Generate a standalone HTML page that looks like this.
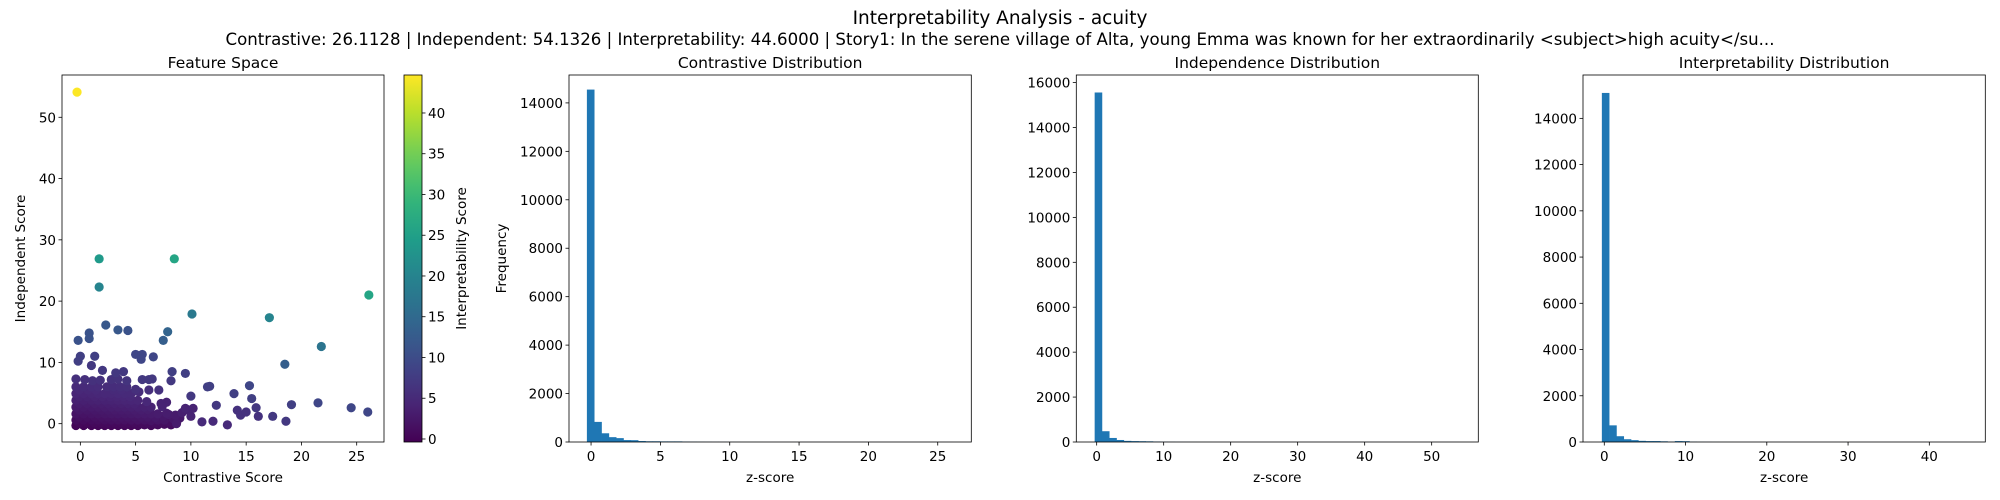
<!DOCTYPE html>
<html><head><meta charset="utf-8">
<style>
body{margin:0;background:#fff;}
svg{display:block;font-family:"DejaVu Sans","Liberation Sans",sans-serif;}
</style></head>
<body>
<svg id="fig" width="2000" height="500" viewBox="0 0 2000 500" xmlns="http://www.w3.org/2000/svg">
<rect width="2000" height="500" fill="#fff"/>
<text x="1000" y="24" font-size="18.5" text-anchor="middle" fill="#000">Interpretability Analysis - acuity</text>
<text x="1000" y="45" font-size="16.6" text-anchor="middle" fill="#000">Contrastive: 26.1128 | Independent: 54.1326 | Interpretability: 44.6000 | Story1: In the serene village of Alta, young Emma was known for her extraordinarily &lt;subject&gt;high acuity&lt;/su...</text>
<g id="g"></g>
</svg>
<script>
// ---- scatter data (contrastive, independent, interpretability) ----
const scatterX = [-0.3,1.7,8.5,1.7,26.1,10.1,17.1,2.3,3.4,4.3,0.8,7.9,-0.2,0.8,7.5,21.8,18.5,5.0,5.6,6.6,5.5,0.0,1.3,-0.2,1.0,2.0,9.5,8.3,8.2,3.2,3.9,5.6,6.2,6.5,7.1,11.5,11.7,15.3,13.9,15.5,10.0,12.3,15.9,19.1,21.5,24.5,26.0,14.2,14.5,15.0,16.1,17.4,18.6,11.0,12.0,13.3,10.0,9.5,10.2,7.8,7.3,8.0,8.7,
-0.4,0.3,1.0,1.6,2.2,2.8,3.4,4.0,4.6,5.2,5.8,6.4,7.0,7.6,8.2,
-0.4,0.3,1.0,1.6,2.2,2.8,3.4,4.0,4.6,5.2,5.8,6.4,7.0,7.6,8.4,9.0,
-0.4,0.3,1.0,1.6,2.2,2.8,3.4,4.0,4.6,5.2,5.8,6.4,7.0,7.8,9.2,9.8,
-0.4,0.3,1.0,1.6,2.2,2.8,3.4,4.0,4.6,5.2,5.8,6.4,7.4,
-0.4,0.3,1.0,1.6,2.2,2.8,3.4,4.0,4.6,5.2,6.0,
-0.4,0.3,1.0,1.6,2.2,2.8,3.4,4.0,4.6,5.3,6.2,
-0.4,0.3,1.0,1.6,2.4,3.0,3.6,4.2,5.0,
-0.4,0.4,1.1,1.8,2.8,3.4,4.2,
-0.1,0.6,1.3,1.9,2.5,3.1,3.7,4.3,4.9,5.5,6.1,6.7,7.3,8.0,
-0.1,0.6,1.3,1.9,2.5,3.1,3.7,4.3,4.9,5.5,6.1,6.8,7.5,8.6,
-0.1,0.6,1.3,1.9,2.5,3.1,3.7,4.3,4.9,5.5,6.1,
-0.1,0.6,1.3,1.9,2.5,3.1,3.7,4.3,4.9,
-0.1,0.6,1.3,2.0,2.7,3.3,3.9,4.5,
-0.1,0.7,1.4,3.0,3.7];
const scatterY = [54.1,26.9,26.9,22.3,21.0,17.9,17.3,16.1,15.3,15.2,14.8,15.0,13.6,13.9,13.6,12.6,9.7,11.3,11.3,10.9,10.5,11.0,11.0,10.2,9.5,8.7,8.2,8.5,7.0,8.3,8.5,7.2,7.2,7.3,5.5,6.0,6.1,6.2,4.9,4.1,4.5,3.0,2.6,3.1,3.4,2.6,1.9,2.2,1.4,1.9,1.2,1.2,0.4,0.3,0.4,-0.2,1.2,2.5,2.5,3.5,3.3,1.5,0.0,
-0.3,-0.3,-0.3,-0.3,-0.3,-0.3,-0.3,-0.3,-0.3,-0.3,-0.2,-0.3,-0.2,-0.1,-0.2,
0.6,0.6,0.6,0.6,0.6,0.6,0.6,0.6,0.6,0.6,0.6,0.5,0.6,0.6,0.8,0.9,
1.6,1.6,1.6,1.6,1.6,1.6,1.6,1.6,1.6,1.6,1.6,1.6,1.6,1.7,1.8,2.2,
2.7,2.7,2.7,2.7,2.7,2.7,2.7,2.7,2.7,2.7,2.7,2.7,2.8,
3.8,3.8,3.8,3.8,3.8,3.8,3.8,3.8,3.8,3.8,3.6,
4.9,4.9,4.9,4.9,4.9,4.9,4.9,4.9,4.9,5.2,5.5,
6.0,6.0,6.0,6.0,6.0,6.0,6.0,6.0,5.6,
7.3,7.2,7.0,7.1,7.2,7.3,7.0,
0.1,0.1,0.1,0.1,0.1,0.1,0.1,0.1,0.1,0.1,0.1,0.1,0.2,0.3,
1.1,1.1,1.1,1.1,1.1,1.1,1.1,1.1,1.1,1.1,1.1,1.0,1.2,1.4,
2.2,2.2,2.2,2.2,2.2,2.2,2.2,2.2,2.2,2.2,2.3,
3.3,3.3,3.3,3.3,3.3,3.3,3.3,3.3,3.2,
4.4,4.4,4.4,4.4,4.4,4.4,4.4,4.4,
5.5,5.5,5.5,5.5,5.5];
const scatterC = [44.6,24,26,20,26,18,20,12,12,11,11,14,11,11,13,17,13,9,9,9,9,8,8,8,7,7,8,8,7,7,7,7,7,7,6,8,8,9,8,8,7,7,7,8,9,9,9,6,6,6,6,7,7,5,5,5,4,4,4,4,4,3,3,
0.2,0.2,0.3,0.3,0.3,0.4,0.4,0.5,0.5,0.6,0.7,0.8,0.9,1.0,1.1,
1.0,1.0,1.1,1.2,1.3,1.4,1.5,1.6,1.7,1.8,1.9,2.0,2.1,2.2,2.4,2.5,
2.0,2.0,2.1,2.2,2.3,2.4,2.5,2.6,2.7,2.8,2.9,3.0,3.1,3.2,3.5,3.7,
2.8,2.8,2.9,3.0,3.1,3.2,3.3,3.4,3.5,3.6,3.7,3.8,4.0,
3.6,3.6,3.7,3.8,3.9,4.0,4.1,4.2,4.3,4.4,4.6,
4.3,4.3,4.4,4.5,4.6,4.7,4.8,4.9,5.0,5.2,5.5,
5.0,5.0,5.1,5.2,5.3,5.4,5.5,5.6,5.8,
5.8,5.8,5.9,6.0,6.1,6.2,6.4,
0.5,0.5,0.6,0.6,0.7,0.7,0.8,0.8,0.9,0.9,1.0,1.1,1.2,1.4,
1.5,1.5,1.6,1.7,1.8,1.9,2.0,2.1,2.2,2.3,2.4,2.5,2.6,2.9,
2.4,2.4,2.5,2.6,2.7,2.8,2.9,3.0,3.1,3.2,3.3,
3.2,3.2,3.3,3.4,3.5,3.6,3.7,3.8,3.9,
4.0,4.0,4.1,4.2,4.3,4.4,4.5,4.6,
4.7,4.7,4.8,5.0,5.1];
const scatterXTicks = [0,5,10,15,20,25];
const scatterYTicks = [0,10,20,30,40,50];
const cbarTicks = [0,5,10,15,20,25,30,35,40];

// ---- histogram data ----
const contrastCounts = [14550,830,360,200,160,80,75,40,30,30,25,25,25,15,10,8,6,5,4,3,3,2,2,2,1,1,1,1,1,1,1,1,1,1,1,1,1,1,1,1,1,1,1,1,1,1,1,1,1,1];
const contrastRange = [-0.3,26.1];
const contrastYTicks = [0,2000,4000,6000,8000,10000,12000,14000];
const contrastXTicks = [0,5,10,15,20,25];

const indepCounts = [15560,480,180,90,50,40,35,30,20,10,8,5,4,3,2,2,1,1,1,1,1,1,1,1,1,1,1,1,1,1,1,1,1,1,1,1,1,1,1,1,1,1,1,1,1,1,1,1,1,1];
const indepRange = [-0.3,54.1];
const indepYTicks = [0,2000,4000,6000,8000,10000,12000,14000,16000];
const indepXTicks = [0,10,20,30,40,50];

const interpCounts = [15100,720,250,120,80,50,40,40,30,15,40,35,10,6,4,3,2,2,1,1,1,1,1,1,1,1,1,1,1,1,1,1,1,1,1,1,1,1,1,1,1,1,1,1,1,1,1,1,1,1];
const interpRange = [-0.3,44.6];
const interpYTicks = [0,2000,4000,6000,8000,10000,12000,14000];
const interpXTicks = [0,10,20,30,40];

const NS = "http://www.w3.org/2000/svg";
const root = document.getElementById('g');
const TFS = 13.5;
function mk(tag, attrs, parent){const e=document.createElementNS(NS,tag);for(const k in attrs)e.setAttribute(k,attrs[k]);(parent||root).appendChild(e);return e;}
function lin(d0,d1,r0,r1){return v=>r0+(v-d0)/(d1-d0)*(r1-r0);}
const VIR=[[68,1,84],[72,40,120],[62,74,137],[49,104,142],[38,130,142],[31,158,137],[53,183,121],[109,205,89],[180,222,44],[253,231,37]];
function viridis(t){t=Math.max(0,Math.min(1,t));const p=t*(VIR.length-1);const i=Math.min(Math.floor(p),VIR.length-2);const f=p-i;const a=VIR[i],b=VIR[i+1];return `rgb(${Math.round(a[0]+(b[0]-a[0])*f)},${Math.round(a[1]+(b[1]-a[1])*f)},${Math.round(a[2]+(b[2]-a[2])*f)})`;}

function axesFrame(L,R,T,B,xt,yt,sx,sy,title,xlabel,prefix){
  const t=mk('text',{x:(L+R)/2,y:T-7,'font-size':15.5,'text-anchor':'middle'});t.textContent=title;
  
  
  xt.forEach(v=>{const x=sx(v);
    mk('line',{x1:x,x2:x,y1:B,y2:B+3.5,stroke:'#000','stroke-width':0.8});
    const l=mk('text',{x:x,y:B+19,'font-size':TFS,'text-anchor':'middle'});l.textContent=v;
    
    });
  yt.forEach(v=>{const y=sy(v);
    mk('line',{x1:L-3.5,x2:L,y1:y,y2:y,stroke:'#000','stroke-width':0.8});
    const l=mk('text',{x:L-6,y:y+5,'font-size':TFS,'text-anchor':'end'});l.textContent=v;
    
    });
  const xl=mk('text',{x:(L+R)/2,y:482,'font-size':TFS,'text-anchor':'middle'});xl.textContent=xlabel;
  
  
}
function frameRect(L,R,T,B,prefix){const r=mk('rect',{x:L,y:T,width:R-L,height:B-T,fill:'none',stroke:'#000','stroke-width':0.8});
  
  }

// ---- scatter ----
(function(){
  const L=62,R=384,T=75,B=442;
  const sx=lin(-1.66,27.47,L,R), sy=lin(-2.99,56.9,B,T);
  const cmin=-0.37,cmax=44.66;
  const idx=scatterX.map((_,i)=>i).sort((a,b)=>scatterC[a]-scatterC[b]);
  idx.forEach(i=>{const c=mk('circle',{cx:sx(scatterX[i]),cy:sy(scatterY[i]),r:4.6,fill:viridis((scatterC[i]-cmin)/(cmax-cmin))});
    
    });
  axesFrame(L,R,T,B,scatterXTicks,scatterYTicks,sx,sy,'Feature Space','Contrastive Score','scatter');
  frameRect(L,R,T,B,'scatter');
  const yl=mk('text',{x:0,y:0,'font-size':TFS,'text-anchor':'middle',transform:`translate(25,${(T+B)/2}) rotate(-90)`});yl.textContent='Independent Score';
  
  
  // colorbar
  const cL=404,cR=422;
  const defs=mk('defs',{});const g=mk('linearGradient',{id:'vg',x1:0,y1:1,x2:0,y2:0},defs);
  for(let k=0;k<=20;k++){mk('stop',{offset:k/20,'stop-color':viridis(k/20)},g);}
  const cb=mk('rect',{x:cL,y:T,width:cR-cL,height:B-T,fill:'url(#vg)',stroke:'#000','stroke-width':0.8});
  
  
  const sc=lin(cmin,cmax,B,T);
  cbarTicks.forEach(v=>{const y=sc(v);mk('line',{x1:cR,x2:cR+3.5,y1:y,y2:y,stroke:'#000','stroke-width':0.8});
    const l=mk('text',{x:cR+6,y:y+5,'font-size':TFS});l.textContent=v;
    
    });
  const cl=mk('text',{x:0,y:0,'font-size':TFS,'text-anchor':'middle',transform:`translate(466,${(T+B)/2}) rotate(-90)`});cl.textContent='Interpretability Score';
  
  
})();

function hist(L,R,T,B,counts,range,xd,yd,xt,yt,title,prefix,ylab){
  const sx=lin(xd[0],xd[1],L,R), sy=lin(yd[0],yd[1],B,T);
  const w=(range[1]-range[0])/counts.length;
  counts.forEach((c,i)=>{const x0=sx(range[0]+i*w),x1=sx(range[0]+(i+1)*w);
    const b=mk('rect',{x:x0,y:sy(c),width:x1-x0+0.3,height:B-sy(c),fill:'#1f77b4'});
    
    });
  axesFrame(L,R,T,B,xt,yt,sx,sy,title,'z-score',prefix);
  frameRect(L,R,T,B,prefix);
  if(ylab){const yl=mk('text',{x:0,y:0,'font-size':TFS,'text-anchor':'middle',transform:`translate(${L-63},${(T+B)/2}) rotate(-90)`});yl.textContent=ylab;
    
    }
}
hist(569,971.3,75,442,contrastCounts,contrastRange,[-1.59,27.42],[0,15152],contrastXTicks,contrastYTicks,'Contrastive Distribution','contrastive-hist','Frequency');
hist(1076.3,1478.3,75,442,indepCounts,indepRange,[-3.04,56.96],[0,16339],indepXTicks,indepYTicks,'Independence Distribution','independence-hist',null);
hist(1583,1985.3,75,442,interpCounts,interpRange,[-2.62,46.89],[0,15876],interpXTicks,interpYTicks,'Interpretability Distribution','interpretability-hist',null);
</script>
</body></html>
